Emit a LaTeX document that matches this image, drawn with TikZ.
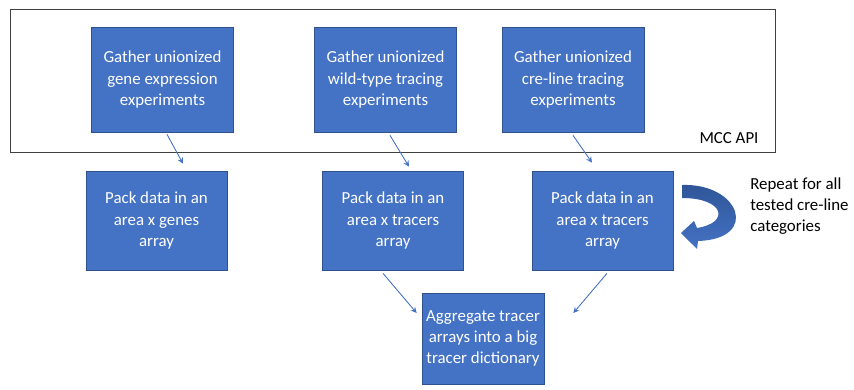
\documentclass[tikz,border=0pt]{standalone}
\usepackage{fontspec}
\setmainfont{Carlito}
\usetikzlibrary{calc}
\definecolor{boxblue}{HTML}{4472C4}
\definecolor{boxedge}{HTML}{2F528F}
\definecolor{loopblue}{HTML}{2F5597}

\begin{document}
\begin{tikzpicture}[
  stepbox/.style={fill=boxblue, draw=boxedge, line width=0.4pt, text=white,
    align=center, font=\fontsize{9.6}{12}\selectfont,
    minimum width=2.84cm, minimum height=2.1cm, inner sep=0pt},
  packbox/.style={stepbox, minimum width=2.82cm, minimum height=1.98cm},
  flow/.style={draw=boxblue, line width=0.5pt, -stealth}
]
\useasboundingbox (0, 0) rectangle (17.08, 7.78);

% The API frame
\draw[draw=black!75, line width=0.5pt] (0.2, 4.74) rectangle (15.5, 7.6);
\node (api) at (14.58, 5.02) {\fontsize{9.6}{12}\selectfont MCC API};

% Gathering steps inside the API
\node[stepbox] (g1) at (3.25, 6.19) {Gather unionized\\gene expression\\experiments};
\node[stepbox] (g2) at (7.71, 6.19) {Gather unionized\\wild-type tracing\\experiments};
\node[stepbox] (g3) at (11.46, 6.19) {Gather unionized\\cre-line tracing\\experiments};

% Packing steps
\node[packbox] (p1) at (3.13, 3.37) {Pack data in an\\area x genes\\array};
\node[packbox] (p2) at (7.86, 3.37) {Pack data in an\\area x tracers\\array};
\node[packbox] (p3) at (12.05, 3.37) {Pack data in an\\area x tracers\\array};

% The final dictionary
\node[stepbox, minimum width=2.44cm, minimum height=1.82cm] (agg) at (9.66, 1.01)
  {Aggregate tracer\\arrays into a big\\tracer dictionary};

% The repeat note
\node[anchor=west, align=left, inner sep=0pt, font=\fontsize{9.6}{12}\selectfont] (rep) at (15.0, 3.66)
  {Repeat for all\\tested cre-line\\categories};

% Thin arrows
\draw[flow] ([xshift=0.9mm, yshift=-0.4mm]g1.south) -- ([xshift=5.3mm, yshift=1.4mm]p1.north);
\draw[flow] ([xshift=0.9mm, yshift=-0.6mm]g2.south) -- ([xshift=3.2mm, yshift=0.8mm]p2.north);
\draw[flow] ([yshift=-0.6mm]g3.south) -- ([xshift=-2.1mm, yshift=1.6mm]p3.north);
\draw[flow] ([xshift=-2mm, yshift=-0.6mm]p2.south) -- ([xshift=-1mm, yshift=5.1mm]agg.west);
\draw[flow] ([xshift=0.9mm, yshift=-0.6mm]p3.south) -- ([xshift=5.8mm, yshift=5.1mm]agg.east);

% The curved loop arrow
\shade[top color=loopblue, bottom color=boxblue]
  (13.64, 4.08) .. controls (14.8, 4.12) and (15.2, 3.0) .. (13.96, 2.96)
  -- (13.94, 2.80) -- (13.62, 3.12) -- (13.88, 3.36) -- (13.94, 3.22)
  .. controls (14.6, 3.32) and (14.5, 3.82) .. (13.64, 3.82) -- cycle;

\end{tikzpicture}
\end{document}
